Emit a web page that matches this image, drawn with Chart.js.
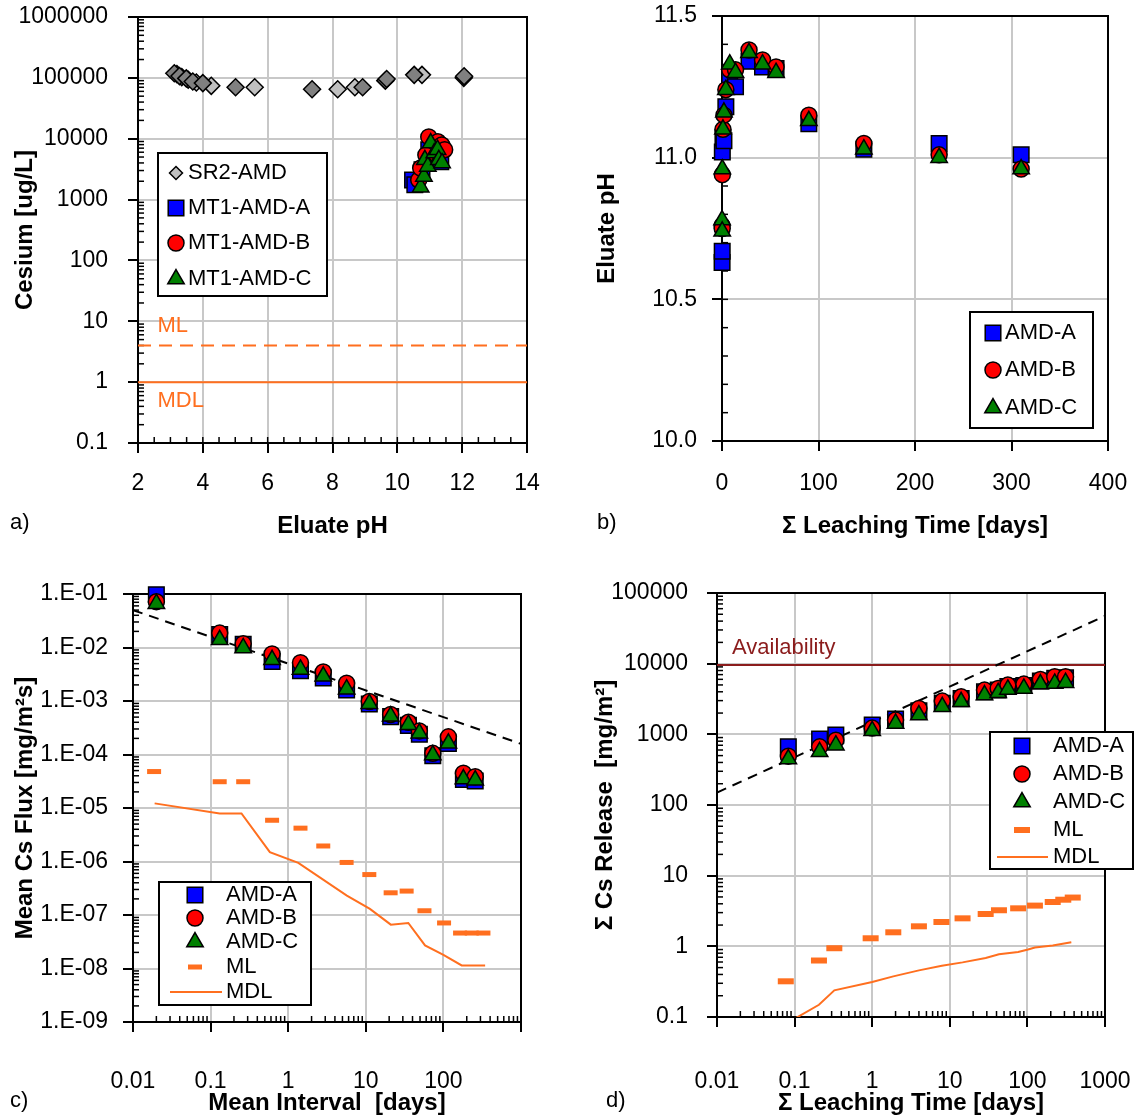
<!DOCTYPE html>
<html>
<head>
<meta charset="utf-8">
<script src="https://cdn.jsdelivr.net/npm/chart.js@4"></script>
<style>
  html, body { margin: 0; padding: 0; background: #fff; }
  body { width: 1136px; height: 1118px; position: relative; overflow: hidden; font-family: 'Liberation Sans', Arial, sans-serif; }
  canvas { position: absolute; }
  .tag { position: absolute; font-size: 22px; line-height: 26px; color: #000; }
</style>
</head>
<body>
<canvas id="chartA" width="560" height="560" style="left:0;top:0"></canvas>
<canvas id="chartB" width="576" height="560" style="left:560px;top:0"></canvas>
<canvas id="chartC" width="560" height="562" style="left:0;top:556px"></canvas>
<canvas id="chartD" width="576" height="562" style="left:560px;top:556px"></canvas>
<div class="tag" style="left:10px;top:509px">a)</div>
<div class="tag" style="left:597px;top:509px">b)</div>
<div class="tag" style="left:10px;top:1087px">c)</div>
<div class="tag" style="left:606px;top:1087px">d)</div>
<script>
// ---- a) Cs concentration vs eluate pH ----
const sr2LightPH = [3.2, 3.35, 3.55, 3.8, 4.26, 5.6, 8.16, 8.69, 10.76, 12.05];
const sr2LightCs = [115000, 103000, 93000, 84000, 74000, 70000, 65000, 70000, 112000, 100000];
const sr2DarkPH = [3.12, 3.28, 3.49, 3.69, 4.0, 5.01, 7.37, 8.93, 9.63, 9.67, 10.52, 12.06];
const sr2DarkCs = [119000, 107000, 98000, 87000, 82000, 70000, 65000, 70000, 90000, 96000, 112000, 106000];
const mt1aPH = [10.47, 10.54, 10.76, 10.97, 11.1, 11.18, 11.34];
const mt1aCs = [2100, 1750, 3100, 6600, 7900, 4900, 4200];
const mt1bPH = [10.66, 10.72, 10.88, 10.97, 11.25, 11.37, 11.46];
const mt1bCs = [2100, 3300, 5400, 10700, 8900, 7900, 6600];
const mt1cPH = [10.72, 10.82, 10.85, 10.94, 11.03, 11.14, 11.24, 11.28, 11.38];
const mt1cCs = [1600, 2400, 4500, 3500, 8500, 5800, 6600, 4500, 4000];
const pHRange = [2, 14];
const csML = [4, 4];
const csMDL = [1, 1];
const pHTicks = [2, 4, 6, 8, 10, 12, 14];
const pHTickLabels = ['2', '4', '6', '8', '10', '12', '14'];
const csTicks = [0.1, 1, 10, 100, 1000, 10000, 100000, 1000000];
const csTickLabels = ['0.1', '1', '10', '100', '1000', '10000', '100000', '1000000'];

// ---- b) eluate pH vs cumulative leaching time ----
const leachDays = [0.083, 0.21, 0.34, 1, 2, 4, 8, 14, 28, 42, 56, 90, 147, 225, 310];
const pHA = [10.63, 10.67, 11.02, 11.07, 11.06, 11.18, 11.28, 11.25, 11.34, 11.32, 11.315, 11.12, 11.03, 11.05, 11.01];
const pHB = [10.76, 10.75, 10.94, 11.10, 11.15, 11.24, 11.31, 11.31, 11.38, 11.345, 11.32, 11.15, 11.05, 11.01, 10.96];
const pHC = [10.78, 10.74, 10.96, 11.10, 11.16, 11.24, 11.33, 11.30, 11.37, 11.33, 11.30, 11.13, 11.03, 11.00, 10.96];
const dayTicks = [0, 100, 200, 300, 400];
const dayTickLabels = ['0', '100', '200', '300', '400'];
const pHTicksB = [10, 10.5, 11, 11.5];
const pHTickLabelsB = ['10.0', '10.5', '11.0', '11.5'];

// ---- c) mean flux vs mean interval ----
const meanInterval = [0.02, 0.131, 0.263, 0.62, 1.44, 2.83, 5.66, 11.1, 20.9, 35.4, 49, 73, 116, 181, 257];
const fluxA = [0.097, 0.0175, 0.0115, 0.0055, 0.0037, 0.0027, 0.0016, 0.00088, 0.00051, 0.00035, 0.00024, 0.000095, 0.00016, 0.000034, 0.000032];
const fluxB = [0.072, 0.0186, 0.0118, 0.0076, 0.0052, 0.0035, 0.00215, 0.00098, 0.00056, 0.0004, 0.000276, 0.000105, 0.000214, 0.0000447, 0.0000384];
const fluxC = [0.066, 0.0139, 0.0098, 0.0059, 0.0039, 0.0029, 0.00166, 0.00089, 0.00052, 0.00036, 0.00025, 0.0000975, 0.000162, 0.0000347, 0.0000331];
const fluxMLx = [0.0187, 0.131, 0.263, 0.62, 1.44, 2.83, 5.66, 11.1, 20.9, 33.6, 57, 102, 164, 232, 328];
const fluxML = [4.8e-5, 3.1e-5, 3.1e-5, 5.9e-6, 4.2e-6, 1.95e-6, 9.6e-7, 5.7e-7, 2.6e-7, 2.8e-7, 1.2e-7, 7.1e-8, 4.6e-8, 4.6e-8, 4.6e-8];
const fluxMDLx = [0.019, 0.131, 0.25, 0.58, 1.35, 5.7, 11.3, 21, 35.3, 58, 100, 172, 345];
const fluxMDL = [1.22e-5, 7.9e-6, 7.9e-6, 1.5e-6, 9.4e-7, 2.3e-7, 1.3e-7, 6.6e-8, 7.1e-8, 2.7e-8, 1.8e-8, 1.14e-8, 1.14e-8];
const fluxSlopeX = [0.01, 1000];
const fluxSlope = [0.05, 0.000158];
const intervalTicks = [0.01, 0.1, 1, 10, 100, 1000];
const intervalTickLabels = ['0.01', '0.1', '1', '10', '100', ''];
const fluxTicks = [1e-9, 1e-8, 1e-7, 1e-6, 1e-5, 1e-4, 1e-3, 1e-2, 1e-1];
const fluxTickLabels = ['1.E-09', '1.E-08', '1.E-07', '1.E-06', '1.E-05', '1.E-04', '1.E-03', '1.E-02', '1.E-01'];

// ---- d) cumulative release vs cumulative leaching time ----
const relA = [665, 855, 975, 1350, 1650, 2150, 2750, 3200, 4000, 4250, 4750, 4900, 5700, 6200, 6300];
const relB = [491, 665, 828, 1225, 1589, 2328, 2951, 3396, 4227, 4467, 4977, 5140, 5984, 6531, 6531];
const relC = [446, 565, 703, 1122, 1426, 1871, 2455, 2884, 3590, 3873, 4325, 4467, 5140, 5260, 5370];
const relMLx = [0.077, 0.206, 0.325, 0.955, 1.87, 4.0, 7.8, 14.6, 29, 43, 76, 125, 212, 290, 384];
const relML = [0.32, 0.63, 0.94, 1.30, 1.58, 1.92, 2.21, 2.49, 2.87, 3.24, 3.45, 3.77, 4.24, 4.57, 4.9];
const relMDLx = [0.101, 0.206, 0.325, 1.0, 1.87, 4.0, 7.9, 14.6, 29, 43, 76, 102, 125, 212, 368];
const relMDL = [0.095, 0.149, 0.238, 0.312, 0.376, 0.457, 0.532, 0.593, 0.682, 0.77, 0.83, 0.90, 0.96, 1.03, 1.14];
const relSlopeX = [0.01, 1000];
const relSlope = [150, 47400];
const availX = [0.01, 1000];
const availability = [9600, 9600];
const timeTicks = [0.01, 0.1, 1, 10, 100, 1000];
const timeTickLabels = ['0.01', '0.1', '1', '10', '100', '1000'];
const relTicks = [0.1, 1, 10, 100, 1000, 10000, 100000];
const relTickLabels = ['0.1', '1', '10', '100', '1000', '10000', '100000'];

const FONT = "'Liberation Sans', Arial, sans-serif";
const ORANGE = '#ff6f1f';
const BLUE = '#0000ff', RED = '#ff0000', GREEN = '#008000';
Chart.defaults.font.family = FONT;
Chart.defaults.color = '#000';

function pts(xs, ys) {
  return xs.map((x, i) => ({ x: x, y: ys[i] }));
}

function markers(label, xs, ys, style, fill, radius, order) {
  return {
    label: label, data: pts(xs, ys), showLine: false, clip: false, order: order,
    pointStyle: style, pointRadius: radius, pointHoverRadius: radius,
    pointBackgroundColor: fill, pointBorderColor: '#000', pointBorderWidth: 1.5
  };
}

function dashes(label, xs, ys, radius, width) {
  return {
    label: label, data: pts(xs, ys), showLine: false, clip: false, order: 8,
    pointStyle: 'line', pointRadius: radius, pointHoverRadius: radius,
    pointBorderColor: ORANGE, pointBorderWidth: width, pointBackgroundColor: ORANGE
  };
}

function line(label, xs, ys, color, width, dash, order) {
  return {
    label: label, data: pts(xs, ys), showLine: true, order: order,
    borderColor: color, backgroundColor: color, borderWidth: width, borderDash: dash,
    pointRadius: 0, pointHoverRadius: 0, tension: 0
  };
}

function axis(o) {
  return {
    type: o.type, position: o.position, min: o.min, max: o.max,
    afterBuildTicks: s => { s.ticks = o.ticks.map(v => ({ value: v })); },
    afterFit: s => {
      if (o.position === 'left') s.width = o.size; else s.height = o.size;
      // tick labels may hang past the plot edges; layout padding handles that
      s.paddingTop = 0; s.paddingBottom = 0; s.paddingLeft = 0; s.paddingRight = 0;
    },
    ticks: {
      autoSkip: false, maxRotation: 0, minRotation: 0, padding: o.pad,
      font: { size: 23 }, color: '#000',
      callback: (v, i) => o.labels[i]
    },
    grid: { color: '#c8c8c8', lineWidth: 2, tickColor: '#000', tickWidth: 2, tickLength: 10 },
    border: { color: '#000', width: 2 },
    title: { display: true, text: o.title, font: { size: 24, weight: 'bold' }, padding: 0, color: '#000' }
  };
}

function minorValues(s, spec) {
  const vals = [];
  if (spec === 'log') {
    const lo = Math.floor(Math.log10(s.min)), hi = Math.ceil(Math.log10(s.max));
    for (let e = lo; e < hi; e++) {
      for (let m = 2; m < 10; m++) {
        const v = m * Math.pow(10, e);
        if (v > s.min && v < s.max) vals.push(v);
      }
    }
  } else {
    for (let k = 1; s.min + k * spec < s.max - 1e-9; k++) vals.push(s.min + k * spec);
  }
  return vals;
}

// plot frame plus short inward minor ticks
const framePlugin = {
  id: 'frame',
  beforeDatasetsDraw(chart, args, opts) {
    const ctx = chart.ctx, a = chart.chartArea;
    ctx.save();
    ctx.strokeStyle = '#000';
    ctx.lineWidth = 1.5;
    ['x', 'y'].forEach(id => {
      if (!opts[id]) return;
      const s = chart.scales[id];
      minorValues(s, opts[id]).forEach(v => {
        const p = s.getPixelForValue(v);
        ctx.beginPath();
        if (id === 'x') { ctx.moveTo(p, a.bottom); ctx.lineTo(p, a.bottom - 6); }
        else { ctx.moveTo(a.left, p); ctx.lineTo(a.left + 6, p); }
        ctx.stroke();
      });
    });
    ctx.lineWidth = 2;
    ctx.strokeRect(a.left, a.top, a.right - a.left, a.bottom - a.top);
    ctx.restore();
  }
};

function drawMarker(ctx, ds, x, y) {
  const r = ds.pointRadius;
  ctx.save();
  ctx.fillStyle = ds.pointBackgroundColor;
  ctx.strokeStyle = ds.pointBorderColor;
  ctx.lineWidth = ds.pointBorderWidth;
  ctx.beginPath();
  if (ds.pointStyle === 'rect') {
    const h = r * Math.SQRT1_2;
    ctx.rect(x - h, y - h, 2 * h, 2 * h);
  } else if (ds.pointStyle === 'rectRot') {
    ctx.moveTo(x, y - r); ctx.lineTo(x + r, y); ctx.lineTo(x, y + r); ctx.lineTo(x - r, y); ctx.closePath();
  } else if (ds.pointStyle === 'triangle') {
    ctx.moveTo(x, y - r);
    ctx.lineTo(x + r * Math.sin(2 * Math.PI / 3), y + r / 2);
    ctx.lineTo(x - r * Math.sin(2 * Math.PI / 3), y + r / 2);
    ctx.closePath();
  } else if (ds.pointStyle === 'line') {
    ctx.moveTo(x - r, y); ctx.lineTo(x + r, y);
    ctx.stroke();
    ctx.restore();
    return;
  } else {
    ctx.arc(x, y, r, 0, Math.PI * 2);
  }
  ctx.fill();
  ctx.stroke();
  ctx.restore();
}

// framed legend placed inside the plot
const boxLegend = {
  id: 'boxLegend',
  afterDatasetsDraw(chart, args, o) {
    if (!o.box) return;
    const ctx = chart.ctx;
    ctx.save();
    ctx.fillStyle = '#fff';
    ctx.strokeStyle = '#000';
    ctx.lineWidth = 2;
    ctx.fillRect(o.box[0], o.box[1], o.box[2], o.box[3]);
    ctx.strokeRect(o.box[0], o.box[1], o.box[2], o.box[3]);
    const items = chart.data.datasets.filter(d => d.inLegend !== false);
    items.forEach((ds, i) => {
      const y = o.rows[i];
      if (ds.showLine) {
        ctx.save();
        ctx.strokeStyle = ds.borderColor;
        ctx.lineWidth = ds.borderWidth;
        ctx.beginPath();
        ctx.moveTo(o.lineFrom, y); ctx.lineTo(o.lineTo, y);
        ctx.stroke();
        ctx.restore();
      } else {
        drawMarker(ctx, Object.assign({}, ds, o.radius && o.radius[i] ? { pointRadius: o.radius[i] } : {}), o.markerX, y);
      }
      ctx.fillStyle = '#000';
      ctx.font = '22px ' + FONT;
      ctx.textAlign = 'left';
      ctx.textBaseline = 'middle';
      ctx.fillText(ds.label, o.textX, y);
    });
    ctx.restore();
  }
};

// free text placed at data coordinates
const notes = {
  id: 'notes',
  afterDatasetsDraw(chart, args, o) {
    if (!o.items) return;
    const ctx = chart.ctx;
    ctx.save();
    ctx.textAlign = 'left';
    ctx.textBaseline = 'middle';
    o.items.forEach(n => {
      ctx.fillStyle = n.color;
      ctx.font = '22px ' + FONT;
      ctx.fillText(n.text, chart.scales.x.getPixelForValue(n.x), chart.scales.y.getPixelForValue(n.y));
    });
    ctx.restore();
  }
};

function makeChart(id, datasets, scales, padding, plugins) {
  new Chart(document.getElementById(id), {
    type: 'scatter',
    data: { datasets: datasets },
    options: {
      responsive: false,
      animation: false,
      devicePixelRatio: 1,
      layout: { padding: padding },
      scales: scales,
      plugins: Object.assign({ legend: { display: false }, tooltip: { enabled: false } }, plugins)
    },
    plugins: [framePlugin, boxLegend, notes]
  });
}

// a)
makeChart('chartA', [
  markers('SR2-AMD', sr2LightPH, sr2LightCs, 'rectRot', '#c0c0c0', 8.5, 6),
  Object.assign(markers('SR2-AMD', sr2DarkPH, sr2DarkCs, 'rectRot', '#808080', 8.5, 5), { inLegend: false }),
  markers('MT1-AMD-A', mt1aPH, mt1aCs, 'rect', BLUE, 11, 3),
  markers('MT1-AMD-B', mt1bPH, mt1bCs, 'circle', RED, 8, 2),
  markers('MT1-AMD-C', mt1cPH, mt1cCs, 'triangle', GREEN, 9.5, 1),
  Object.assign(line('ML', pHRange, csML, ORANGE, 2, [13, 8], 9), { inLegend: false }),
  Object.assign(line('MDL', pHRange, csMDL, ORANGE, 2, [], 9), { inLegend: false })
], {
  x: axis({ type: 'linear', position: 'bottom', min: 2, max: 14, ticks: pHTicks, labels: pHTickLabels, size: 98, pad: 17, title: 'Eluate pH' }),
  y: axis({ type: 'logarithmic', position: 'left', min: 0.1, max: 1000000, ticks: csTicks, labels: csTickLabels, size: 127, pad: 20, title: 'Cesium [ug/L]' })
}, { left: 11, top: 17, right: 33, bottom: 19 }, {
  frame: { x: 0.5, y: 'log' },
  boxLegend: { box: [158, 153, 169, 143], rows: [173, 208, 243, 279], markerX: 176, textX: 188, radius: [6.5, 0, 0, 0] },
  notes: { items: [
    { text: 'ML', x: 2.6, y: 8.4, color: ORANGE },
    { text: 'MDL', x: 2.6, y: 0.5, color: ORANGE }
  ] }
});

// b)
makeChart('chartB', [
  markers('AMD-A', leachDays, pHA, 'rect', BLUE, 11, 3),
  markers('AMD-B', leachDays, pHB, 'circle', RED, 8, 2),
  markers('AMD-C', leachDays, pHC, 'triangle', GREEN, 9.5, 1)
], {
  x: axis({ type: 'linear', position: 'bottom', min: 0, max: 400, ticks: dayTicks, labels: dayTickLabels, size: 100, pad: 19, title: 'Σ Leaching Time [days]' }),
  y: axis({ type: 'linear', position: 'left', min: 10, max: 11.5, ticks: pHTicksB, labels: pHTickLabelsB, size: 129, pad: 15, title: 'Eluate pH' })
}, { left: 33, top: 16, right: 28, bottom: 19 }, {
  frame: { y: 0.1 },
  boxLegend: { box: [410, 312, 123, 116], rows: [333, 370, 408], markerX: 433, textX: 445 }
});

// c)
makeChart('chartC', [
  markers('AMD-A', meanInterval, fluxA, 'rect', BLUE, 11, 3),
  markers('AMD-B', meanInterval, fluxB, 'circle', RED, 8, 2),
  markers('AMD-C', meanInterval, fluxC, 'triangle', GREEN, 9.5, 1),
  dashes('ML', fluxMLx, fluxML, 7, 5),
  line('MDL', fluxMDLx, fluxMDL, ORANGE, 2, [], 9),
  Object.assign(line('slope', fluxSlopeX, fluxSlope, '#000', 2, [10, 7], 7), { inLegend: false })
], {
  x: axis({ type: 'logarithmic', position: 'bottom', min: 0.01, max: 1000, ticks: intervalTicks, labels: intervalTickLabels, size: 96, pad: 36, title: 'Mean Interval  [days]' }),
  y: axis({ type: 'logarithmic', position: 'left', min: 1e-9, max: 0.1, ticks: fluxTicks, labels: fluxTickLabels, size: 122, pad: 15, title: 'Mean Cs Flux [mg/m²s]' })
}, { left: 11, top: 38, right: 39, bottom: 0 }, {
  frame: { x: 'log', y: 'log' },
  boxLegend: { box: [159, 326, 152, 123], rows: [339, 362, 386, 411, 436], markerX: 195, textX: 226, lineFrom: 170, lineTo: 222 }
});

// d)
makeChart('chartD', [
  markers('AMD-A', leachDays, relA, 'rect', BLUE, 11, 3),
  markers('AMD-B', leachDays, relB, 'circle', RED, 8, 2),
  markers('AMD-C', leachDays, relC, 'triangle', GREEN, 9.5, 1),
  dashes('ML', relMLx, relML, 8, 6),
  line('MDL', relMDLx, relMDL, ORANGE, 2, [], 9),
  Object.assign(line('slope', relSlopeX, relSlope, '#000', 2, [10, 7], 7), { inLegend: false }),
  Object.assign(line('Availability', availX, availability, '#8b1c1c', 2, [], 7), { inLegend: false })
], {
  x: axis({ type: 'logarithmic', position: 'bottom', min: 0.01, max: 1000, ticks: timeTicks, labels: timeTickLabels, size: 101, pad: 41, title: 'Σ Leaching Time [days]' }),
  y: axis({ type: 'logarithmic', position: 'left', min: 0.1, max: 100000, ticks: relTicks, labels: relTickLabels, size: 126, pad: 19, title: 'Σ Cs Release  [mg/m²]' })
}, { left: 31, top: 37, right: 31, bottom: 0 }, {
  frame: { x: 'log', y: 'log' },
  boxLegend: { box: [430, 176, 143, 137], rows: [190, 218, 246, 274, 301], markerX: 462, textX: 493, lineFrom: 437, lineTo: 488 },
  notes: { items: [
    { text: 'Availability', x: 0.0156, y: 16600, color: '#8b1c1c' }
  ] }
});
</script>
</body>
</html>
